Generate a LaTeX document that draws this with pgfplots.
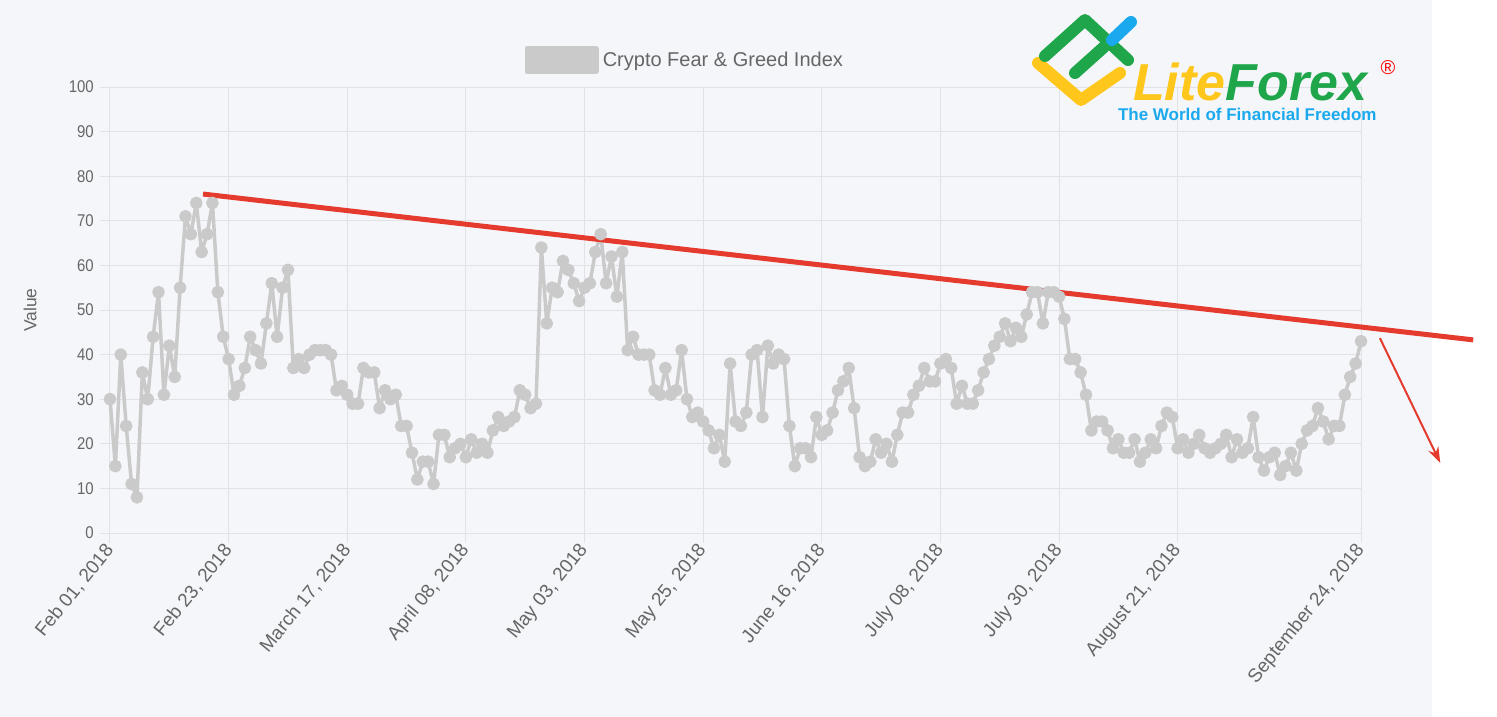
\documentclass[border=0pt]{standalone}
\usepackage{pgfplots}
\pgfplotsset{compat=1.18}
\usetikzlibrary{arrows.meta}
\usepackage{fontspec}
\setmainfont{Liberation Sans}[FakeStretch=0.88]
\newfontfamily\plainfont{Liberation Sans}

\definecolor{bgc}{HTML}{F5F6FA}
\definecolor{gridc}{HTML}{E1E2E6}
\definecolor{txt}{HTML}{666666}
\definecolor{linec}{HTML}{CACACA}
\definecolor{trend}{HTML}{E53A2E}
\definecolor{lfgreen}{HTML}{1FA64A}
\definecolor{lfyellow}{HTML}{FFC61C}
\definecolor{lfblue}{HTML}{1BA9EE}

\begin{document}
\begin{tikzpicture}
\useasboundingbox (0pt,0pt) rectangle (1497pt,-717pt);
\fill[white] (0pt,0pt) rectangle (1497pt,-717pt);
\fill[bgc] (0pt,0pt) rectangle (1432pt,-717pt);

\begin{axis}[
  at={(110pt,-533pt)}, anchor=south west,
  scale only axis, width=1251pt, height=446pt,
  xmin=0, xmax=232, ymin=0, ymax=100,
  clip=false,
  axis lines*=left, axis line style={draw=gridc, line width=1pt, -},
  grid=major, major grid style={draw=gridc, line width=1pt},
  tick align=outside, major tick length=10pt,
  tick style={draw=gridc, line width=1pt},
  ytick={0,10,...,100},
  xtick={0,22,44,66,88,110,132,154,176,198,232},
  xticklabels={{Feb 01, 2018},{Feb 23, 2018},{March 17, 2018},{April 08, 2018},
    {May 03, 2018},{May 25, 2018},{June 16, 2018},{July 08, 2018},
    {July 30, 2018},{August 21, 2018},{September 24, 2018}},
  /pgf/number format/assume math mode=true,
  yticklabel style={font=\fontsize{17}{20}\selectfont, text=txt,
    anchor=east, inner sep=0pt, xshift=-6pt},
  xticklabel style={font=\plainfont\fontsize{19}{22}\selectfont, text=txt,
    rotate=51, anchor=east, inner sep=0pt},
  xticklabel shift=4pt,
  ylabel={Value},
  ylabel style={at={(axis description cs:0,0.5)}, anchor=center, yshift=80pt,
    font=\plainfont\fontsize{17.5}{20}\selectfont, text=txt},
  legend style={at={(0.3318,1.0605)}, anchor=west, draw=none, fill=none,
    inner sep=0pt, column sep=4pt, nodes={inner sep=0pt, text=txt},
    font=\plainfont\fontsize{20}{22}\selectfont},
  legend image code/.code={\fill[linec] (0pt,-12pt) rectangle (70pt,12pt);},
]
% Crypto Fear & Greed Index, one point per listed day
\addplot[linec, line width=3.5pt, line join=round, mark=*, mark size=4.6pt,
  mark options={fill=linec, draw=none}] coordinates {
(0,30)(1,15)(2,40)(3,24)(4,11)(5,8)(6,36)(7,30)(8,44)(9,54)
(10,31)(11,42)(12,35)(13,55)(14,71)(15,67)(16,74)(17,63)(18,67)(19,74)
(20,54)(21,44)(22,39)(23,31)(24,33)(25,37)(26,44)(27,41)(28,38)(29,47)
(30,56)(31,44)(32,55)(33,59)(34,37)(35,39)(36,37)(37,40)(38,41)(39,41)
(40,41)(41,40)(42,32)(43,33)(44,31)(45,29)(46,29)(47,37)(48,36)(49,36)
(50,28)(51,32)(52,30)(53,31)(54,24)(55,24)(56,18)(57,12)(58,16)(59,16)
(60,11)(61,22)(62,22)(63,17)(64,19)(65,20)(66,17)(67,21)(68,18)(69,20)
(70,18)(71,23)(72,26)(73,24)(74,25)(75,26)(76,32)(77,31)(78,28)(79,29)
(80,64)(81,47)(82,55)(83,54)(84,61)(85,59)(86,56)(87,52)(88,55)(89,56)
(90,63)(91,67)(92,56)(93,62)(94,53)(95,63)(96,41)(97,44)(98,40)(99,40)
(100,40)(101,32)(102,31)(103,37)(104,31)(105,32)(106,41)(107,30)(108,26)(109,27)
(110,25)(111,23)(112,19)(113,22)(114,16)(115,38)(116,25)(117,24)(118,27)(119,40)
(120,41)(121,26)(122,42)(123,38)(124,40)(125,39)(126,24)(127,15)(128,19)(129,19)
(130,17)(131,26)(132,22)(133,23)(134,27)(135,32)(136,34)(137,37)(138,28)(139,17)
(140,15)(141,16)(142,21)(143,18)(144,20)(145,16)(146,22)(147,27)(148,27)(149,31)
(150,33)(151,37)(152,34)(153,34)(154,38)(155,39)(156,37)(157,29)(158,33)(159,29)
(160,29)(161,32)(162,36)(163,39)(164,42)(165,44)(166,47)(167,43)(168,46)(169,44)
(170,49)(171,54)(172,54)(173,47)(174,54)(175,54)(176,53)(177,48)(178,39)(179,39)
(180,36)(181,31)(182,23)(183,25)(184,25)(185,23)(186,19)(187,21)(188,18)(189,18)
(190,21)(191,16)(192,18)(193,21)(194,19)(195,24)(196,27)(197,26)(198,19)(199,21)
(200,18)(201,20)(202,22)(203,19)(204,18)(205,19)(206,20)(207,22)(208,17)(209,21)
(210,18)(211,19)(212,26)(213,17)(214,14)(215,17)(216,18)(217,13)(218,15)(219,18)
(220,14)(221,20)(222,23)(223,24)(224,28)(225,25)(226,21)(227,24)(228,24)(229,31)
(230,35)(231,38)(232,43)
};
\addlegendentry{Crypto Fear \& Greed Index}
% hand-drawn trend line and arrow
\addplot[trend, line width=5pt, forget plot] coordinates {(17.25,76.0) (252.8,43.3)};
\addplot[trend, line width=2pt, -{Stealth[length=16pt, width=11pt]}, forget plot]
  coordinates {(235.5,43.7) (246.7,15.7)};
\end{axis}

% LiteForex logo
\begin{scope}[x=1pt, y=-1pt, line cap=round, line join=round, line width=12pt]
\draw[lfyellow] (1038,63) -- (1081,100) -- (1120,73);
\draw[lfgreen] (1045,56) -- (1085,20) -- (1128,60);
\draw[lfgreen] (1075,73) -- (1104,47);
\draw[lfblue] (1112,40) -- (1131,22);
\node[anchor=base west, inner sep=0pt, font=\plainfont\bfseries\itshape\fontsize{52}{52}\selectfont]
  at (1127,100) {\textcolor{lfyellow}{Lite}\textcolor{lfgreen}{Forex}};
\node[anchor=base west, inner sep=0pt, text=lfblue,
  font=\plainfont\bfseries\fontsize{17}{18}\selectfont]
  at (1112,120) {The World of Financial Freedom};
\node[text=red, inner sep=0pt, font=\plainfont\fontsize{20}{20}\selectfont] at (1388,68) {®};
\end{scope}
\end{tikzpicture}
\end{document}
